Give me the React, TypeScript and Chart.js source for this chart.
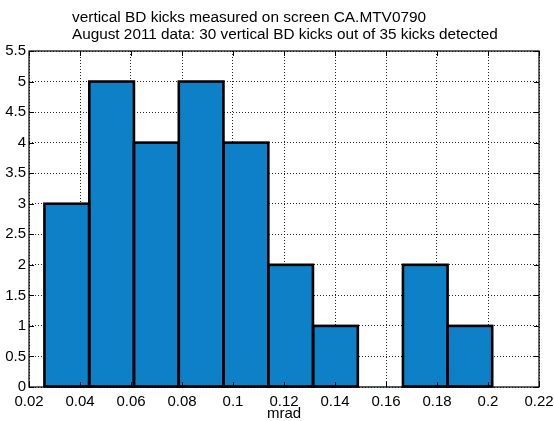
import React, { useEffect, useRef } from 'react';
import { Chart, registerables } from 'chart.js';

Chart.register(...registerables);

const titleLines = [
  'vertical BD kicks measured on screen CA.MTV0790',
  'August 2011 data: 30 vertical BD kicks out of 35 kicks detected',
];
const xLabel = 'mrad';
const binCenters = [0.0348, 0.0524, 0.0699, 0.0875, 0.1051, 0.1226, 0.1402, 0.1578, 0.1754, 0.1929];
const counts = [3, 5, 4, 5, 4, 2, 1, 0, 2, 1];
const xTicks = [0.02, 0.04, 0.06, 0.08, 0.1, 0.12, 0.14, 0.16, 0.18, 0.2, 0.22];
const xTickLabels = ['0.02', '0.04', '0.06', '0.08', '0.1', '0.12', '0.14', '0.16', '0.18', '0.2', '0.22'];
const yTicks = [0, 0.5, 1, 1.5, 2, 2.5, 3, 3.5, 4, 4.5, 5, 5.5];
const yTickLabels = ['0', '0.5', '1', '1.5', '2', '2.5', '3', '3.5', '4', '4.5', '5', '5.5'];

const FONT = 'Liberation Sans, Arial, Helvetica, sans-serif';
const BAR_COLOR = '#0e80c8';

const outlinePlugin = {
  id: 'outlineFrame',
  afterDatasetsDraw(chart: any) {
    const ctx = chart.ctx;
    const meta = chart.getDatasetMeta(0);
    ctx.save();
    ctx.strokeStyle = '#000';
    ctx.lineWidth = 2.6;
    ctx.lineJoin = 'miter';
    meta.data.forEach((el: any, i: number) => {
      if (counts[i] <= 0) return;
      const p = el.getProps(['x', 'y', 'base', 'width'], true);
      ctx.strokeRect(p.x - p.width / 2, p.y, p.width, p.base - p.y);
    });
    const a = chart.chartArea;
    ctx.lineWidth = 1.2;
    ctx.strokeRect(a.left, a.top, a.right - a.left, a.bottom - a.top);
    const xs = chart.scales.x;
    const ys = chart.scales.y;
    ctx.lineWidth = 1;
    ctx.beginPath();
    xTicks.forEach((v) => {
      const px = Math.round(xs.getPixelForValue(v)) + 0.5;
      ctx.moveTo(px, a.bottom);
      ctx.lineTo(px, a.bottom - 5);
      ctx.moveTo(px, a.top);
      ctx.lineTo(px, a.top + 5);
    });
    yTicks.forEach((v) => {
      const py = Math.round(ys.getPixelForValue(v)) + 0.5;
      ctx.moveTo(a.left, py);
      ctx.lineTo(a.left + 5, py);
      ctx.moveTo(a.right, py);
      ctx.lineTo(a.right - 5, py);
    });
    ctx.stroke();
    ctx.restore();
  },
  afterDraw(chart: any) {
    const ctx = chart.ctx;
    ctx.save();
    ctx.fillStyle = '#000';
    ctx.textAlign = 'left';
    ctx.textBaseline = 'alphabetic';
    ctx.font = `15.4px ${FONT}`;
    ctx.fillText(titleLines[0], 72, 22);
    ctx.font = `15.3px ${FONT}`;
    ctx.fillText(titleLines[1], 72, 39);
    ctx.restore();
  },
};

export default function App() {
  const ref = useRef<HTMLCanvasElement>(null);
  useEffect(() => {
    document.body.style.margin = '0';
    const chart = new Chart(ref.current as HTMLCanvasElement, {
      type: 'bar',
      data: {
        datasets: [
          {
            data: binCenters.map((x, i) => ({ x, y: counts[i] })),
            backgroundColor: BAR_COLOR,
            borderWidth: 0,
            barPercentage: 1,
            categoryPercentage: 1,
          },
        ],
      },
      options: {
        animation: false,
        responsive: false,
        devicePixelRatio: 1,
        layout: { padding: { left: 0, top: 51, right: 15, bottom: 0 } },
        plugins: { legend: { display: false }, tooltip: { enabled: false }, title: { display: false } },
        scales: {
          x: {
            type: 'linear',
            min: 0.02,
            max: 0.22,
            offset: false,
            afterBuildTicks: (s: any) => {
              s.ticks = xTicks.map((v) => ({ value: v }));
            },
            afterFit: (s: any) => {
              s.height = 34;
              s.paddingLeft = 0;
              s.paddingRight = 0;
            },
            ticks: {
              autoSkip: false,
              maxRotation: 0,
              padding: 6,
              color: '#000',
              font: { family: FONT, size: 15 },
              callback: (_v: any, i: number) => xTickLabels[i],
            },
            grid: { color: 'rgba(0,0,0,0.85)', lineWidth: 1, drawTicks: false, offset: false },
            border: { display: false, dash: [1, 2] },
            title: {
              display: true,
              text: xLabel,
              color: '#000',
              font: { family: FONT, size: 15, lineHeight: 1 },
              padding: { top: 0, bottom: 0 },
            },
          },
          y: {
            type: 'linear',
            min: 0,
            max: 5.5,
            afterBuildTicks: (s: any) => {
              s.ticks = yTicks.map((v) => ({ value: v }));
            },
            afterFit: (s: any) => {
              s.width = 29;
              s.paddingTop = 0;
              s.paddingBottom = 0;
            },
            ticks: {
              autoSkip: false,
              padding: 3,
              color: '#000',
              font: { family: FONT, size: 15 },
              callback: (_v: any, i: number) => yTickLabels[i],
            },
            grid: { color: 'rgba(0,0,0,0.85)', lineWidth: 1, drawTicks: false },
            border: { display: false, dash: [1, 2] },
          },
        },
      },
      plugins: [outlinePlugin],
    } as any);
    return () => chart.destroy();
  }, []);
  return (
    <div style={{ position: 'absolute', left: 0, top: 0, width: 554, height: 421, background: '#fff' }}>
      <canvas ref={ref} width={554} height={421} style={{ display: 'block' }} />
    </div>
  );
}
